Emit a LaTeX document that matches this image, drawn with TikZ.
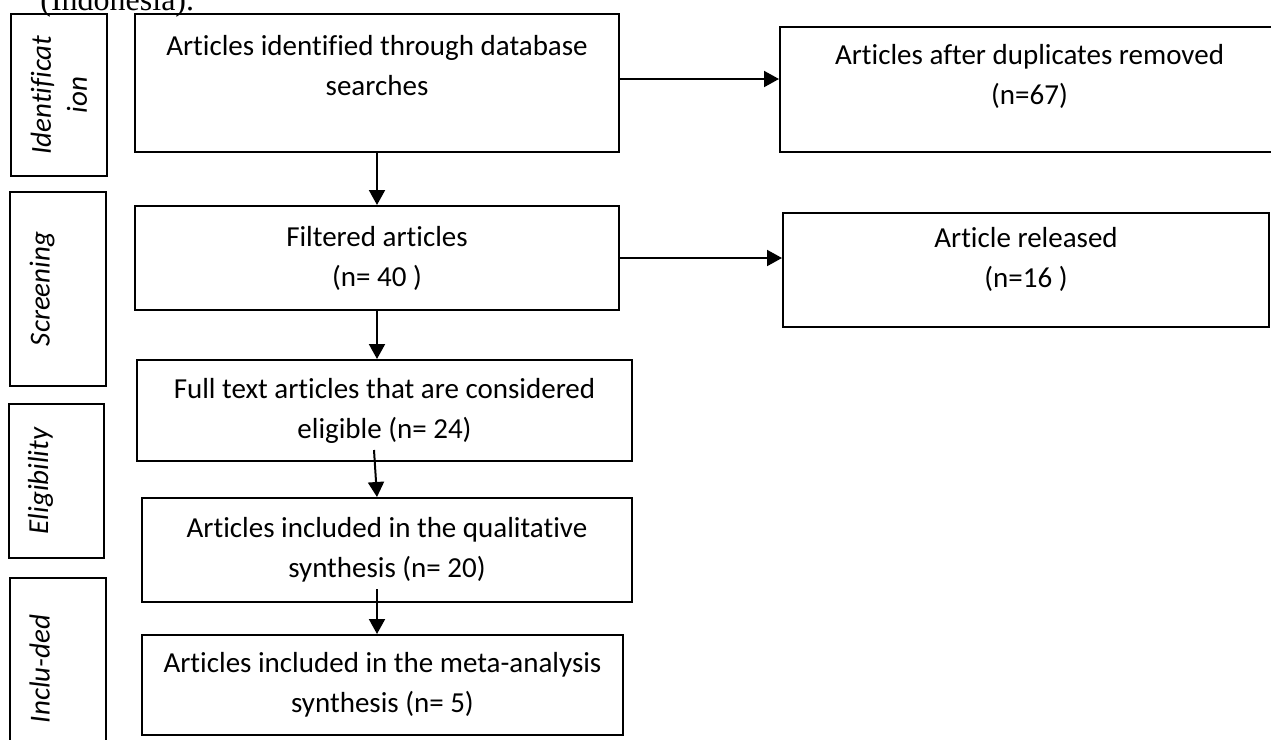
\documentclass[tikz,border=0pt]{standalone}
\usepackage{fontspec}
\setmainfont{Carlito}[Ligatures=NoCommon]
\newfontfamily\pagefont{Liberation Serif}
\usetikzlibrary{arrows.meta}

\tikzset{
  stage/.style={draw, line width=1pt, align=center, inner sep=0pt,
    font=\fontsize{14.5}{20}\selectfont},
  phase/.style={draw, line width=1pt, rotate=90, align=center, inner sep=0pt,
    font=\fontsize{14.5}{18}\selectfont\itshape},
  phaseone/.style={phase, text height=10pt, text depth=18.5pt},
  flow/.style={-{Triangle[length=7.5pt,width=8pt]}, line width=1pt}
}

\begin{document}
\begin{tikzpicture}[x=0.5pt, y=-0.5pt]
  \useasboundingbox (0,0) rectangle (1271,740);

  % running text of the page, cut at the top
  \node[anchor=base west, inner sep=0pt, font=\pagefont\fontsize{16}{18}\selectfont] (page) at (40,10) {(Indonesia).};

  % phases on the left
  \node[phase, minimum width=81pt, minimum height=48pt] (ident) at (59,95) {Identificat\\ion};
  \node[phaseone, minimum width=97pt, minimum height=48pt] (screen) at (58,289) {Screening};
  \node[phaseone, minimum width=77pt, minimum height=47.5pt] (elig) at (56.5,481) {Eligibility};
  \node[phaseone, minimum width=91pt, minimum height=48pt] (incl) at (58,669) {Inclu-ded};

  % main column
  \node[stage, minimum width=242pt, minimum height=69pt, text depth=18pt] (search) at (377,83)
    {Articles identified through database\\searches};
  \node[stage, minimum width=242pt, minimum height=52pt] (filt) at (377,258)
    {Filtered articles\\(n= 40 )};
  \node[stage, minimum width=247.5pt, minimum height=50.5pt] (full) at (384.5,410.5)
    {Full text articles that are considered\\eligible (n= 24)};
  \node[stage, minimum width=245pt, minimum height=52pt] (qual) at (387,550)
    {Articles included in the qualitative\\synthesis (n= 20)};
  \node[stage, minimum width=240.5pt, minimum height=50pt] (meta) at (382.5,685)
    {Articles included in the meta-analysis\\synthesis (n= 5)};

  % removed articles
  \node[stage, minimum width=249.5pt, minimum height=62.5pt, text depth=14.6pt] (dup) at (1029.5,89.5)
    {Articles after duplicates removed\\(n=67)};
  \node[stage, minimum width=243pt, minimum height=57pt, text depth=12.6pt] (rel) at (1026,270)
    {Article released\\(n=16 )};

  % arrows
  \coordinate (h1) at ([yshift=2pt]search.east);
  \draw[flow] (h1) -- (h1 -| dup.west);
  \draw[flow] (filt.east) -- (filt.east -| rel.west);
  \draw[flow] (search.south) -- (filt.north);
  \draw[flow] (filt.south) -- (filt.south |- full.north);
  \draw[flow] ([xshift=-5.25pt,yshift=6pt]full.south) -- ([xshift=-5pt]qual.north);
  \draw[flow] ([xshift=-5pt,yshift=7pt]qual.south) -- ([xshift=-2.75pt]meta.north);
\end{tikzpicture}
\end{document}
